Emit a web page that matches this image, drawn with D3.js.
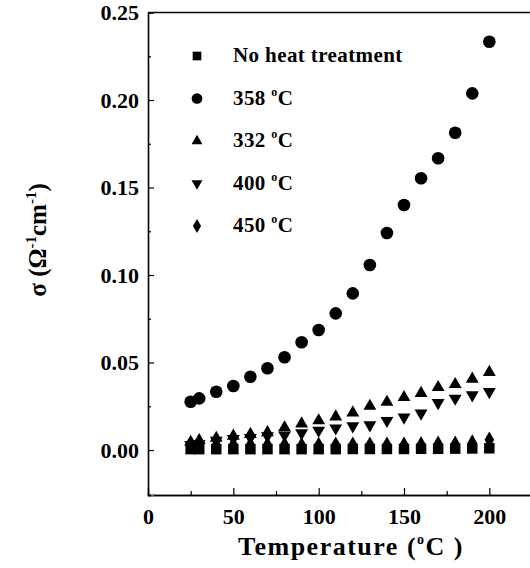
<!DOCTYPE html>
<html>
<head>
<meta charset="utf-8">
<title>Conductivity vs temperature</title>
<script src="https://d3js.org/d3.v7.min.js"></script>
<style>
  body { margin: 0; background: #fff; }
  svg { display: block; font-family: "Liberation Serif", "Times New Roman", serif; font-weight: bold; }
</style>
</head>
<body>
<svg id="chart" width="530" height="568"></svg>
<script>
// temperatures (deg C) measured
const temps = [25, 30, 40, 50, 60, 70, 80, 90, 100, 110, 120, 130, 140, 150, 160, 170, 180, 190, 200];

// sigma values, one array per sample
const noHeat = [0.0005, 0.0005, 0.0005, 0.0005, 0.0005, 0.0005, 0.0005, 0.0005, 0.0005, 0.0005, 0.0006, 0.0006, 0.0006, 0.0006, 0.0007, 0.0007, 0.0008, 0.0009, 0.0010];
const s358 = [0.0276, 0.0295, 0.0333, 0.0366, 0.0419, 0.0467, 0.0530, 0.0616, 0.0686, 0.0781, 0.0895, 0.1057, 0.1240, 0.1400, 0.1553, 0.1667, 0.1813, 0.2038, 0.2333];
const s332 = [0.0045, 0.0055, 0.0068, 0.0080, 0.0090, 0.0100, 0.0128, 0.0150, 0.0168, 0.0190, 0.0213, 0.0251, 0.0274, 0.0301, 0.0324, 0.0358, 0.0375, 0.0406, 0.0444];
const s400 = [0.0030, 0.0035, 0.0055, 0.0065, 0.0070, 0.0080, 0.0085, 0.0097, 0.0112, 0.0125, 0.0137, 0.0143, 0.0168, 0.0187, 0.0210, 0.0270, 0.0295, 0.0314, 0.0333];
const s450 = [0.0025, 0.0028, 0.0030, 0.0030, 0.0030, 0.0030, 0.0030, 0.0027, 0.0028, 0.0030, 0.0030, 0.0030, 0.0030, 0.0030, 0.0032, 0.0035, 0.0035, 0.0042, 0.0058];

const legendLabels = ["No heat treatment", "358", "332", "400", "450"];
const xTicks = [0, 50, 100, 150, 200];
const xMinor = [25, 75, 125, 175, 225];
const yTicks = [0, 0.05, 0.10, 0.15, 0.20, 0.25];
const yMinor = [0.025, 0.075, 0.125, 0.175, 0.225];

const svg = d3.select("#chart");

const x = d3.scaleLinear().domain([0, 225]).range([148, 532]);
const y = d3.scaleLinear().domain([-0.0257, 0.25]).range([495, 12.5]);

// marker shapes
const shapes = [
  { sym: d3.symbolSquare, size: 110, legSize: 75, rot: 0 },
  { sym: d3.symbolCircle, size: 125, legSize: 90, rot: 0 },
  { sym: d3.symbolTriangle, size: 72, legSize: 52, rot: 0 },
  { sym: d3.symbolTriangle, size: 72, legSize: 52, rot: 180 },
  { sym: d3.symbolDiamond, size: 80, legSize: 58, rot: 0 }
];
const series = [noHeat, s358, s332, s400, s450];

// frame
svg.append("line")
    .attr("x1", x(0)).attr("x2", 530)
    .attr("y1", y(0.25)).attr("y2", y(0.25))
    .attr("stroke", "#000").attr("stroke-width", 1.3);

// axes (ticks pointing inside)
svg.append("g").attr("transform", `translate(0,${y.range()[0]})`)
    .call(d3.axisBottom(x).tickValues(xTicks).tickSize(-7).tickPadding(13).tickFormat(d3.format("d")));
svg.append("g").attr("transform", `translate(0,${y.range()[0]})`)
    .call(d3.axisBottom(x).tickValues(xMinor).tickSize(-4).tickFormat(""));

const gy = svg.append("g").attr("transform", `translate(${x(0)},0)`)
    .call(d3.axisLeft(y).tickValues(yTicks).tickSize(-6).tickPadding(9).tickFormat(d3.format(".2f")));
svg.append("g").attr("transform", `translate(${x(0)},0)`)
    .call(d3.axisLeft(y).tickValues(yMinor).tickSize(-3).tickFormat(""));

svg.selectAll(".domain").attr("stroke", "#000").attr("stroke-width", 1.3);
svg.selectAll(".tick line").attr("stroke", "#000").attr("stroke-width", 1.2);
gy.select(".domain").attr("stroke", "#666").attr("stroke-width", 1.6);
svg.selectAll(".tick text")
    .attr("font-family", "Liberation Serif, serif")
    .attr("font-weight", "bold")
    .attr("font-size", 22)
    .attr("fill", "#000");

// data points
series.forEach((vals, i) => {
  const s = shapes[i];
  svg.append("g").selectAll("path")
    .data(temps.map((t, j) => [t, vals[j]]))
    .join("path")
      .attr("d", d3.symbol(s.sym, s.size))
      .attr("transform", d => `translate(${x(d[0])},${y(d[1])}) rotate(${s.rot})`)
      .attr("fill", "#000");
});

// legend
const leg = svg.append("g");
legendLabels.forEach((lab, i) => {
  const ly = 56 + i * 42.5;
  const s = shapes[i];
  leg.append("path")
    .attr("d", d3.symbol(s.sym, s.legSize))
    .attr("transform", `translate(197,${ly}) rotate(${s.rot})`)
    .attr("fill", "#000");
  const t = leg.append("text")
    .attr("x", 233).attr("y", ly + 6)
    .attr("font-size", 21)
    .attr("letter-spacing", 0.4);
  if (i === 0) {
    t.text(lab);
  } else {
    t.append("tspan").text(lab + " ");
    t.append("tspan").attr("font-size", 12).attr("dy", -9).text("o");
    t.append("tspan").attr("dy", 9).text("C");
  }
});

// axis titles
const xt = svg.append("text")
    .attr("x", 351).attr("y", 555)
    .attr("text-anchor", "middle")
    .attr("font-size", 26)
    .attr("letter-spacing", 1.5);
xt.append("tspan").text("Temperature  (");
xt.append("tspan").attr("font-size", 14).attr("dy", -11).text("o");
xt.append("tspan").attr("dy", 11).text("C )");

const yt = svg.append("text")
    .attr("transform", "translate(46,240) rotate(-90)")
    .attr("text-anchor", "middle")
    .attr("font-size", 25);
yt.append("tspan").text("σ (Ω");
yt.append("tspan").attr("font-size", 15).attr("dy", -10).text("-1");
yt.append("tspan").attr("dy", 10).text("cm");
yt.append("tspan").attr("font-size", 15).attr("dy", -10).text("-1");
yt.append("tspan").attr("dy", 10).text(")");
</script>
</body>
</html>
